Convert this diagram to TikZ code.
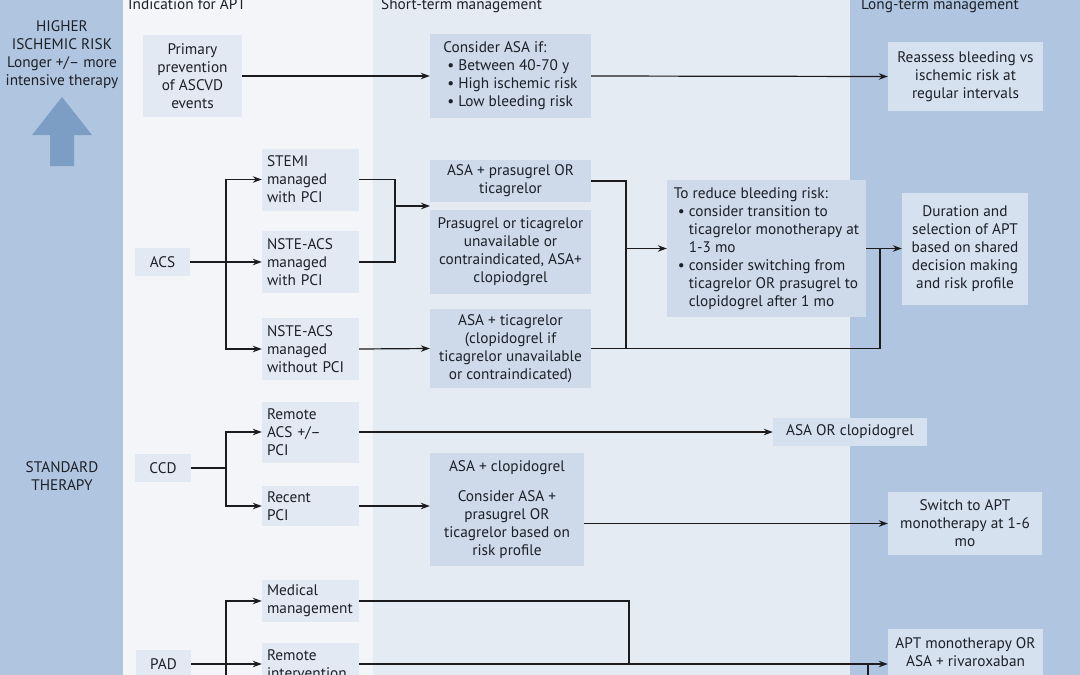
\documentclass[tikz,border=0pt]{standalone}
\usepackage{fontspec}
\setmainfont{PT Sans}
\usetikzlibrary{arrows.meta}
\hyphenpenalty=10000 \exhyphenpenalty=10000
\definecolor{band}{RGB}{176,197,223}
\definecolor{colA}{RGB}{243,245,249}
\definecolor{colB}{RGB}{229,235,243}
\definecolor{boxA}{RGB}{227,233,242}
\definecolor{boxB}{RGB}{206,218,233}
\definecolor{boxC}{RGB}{214,225,239}
\definecolor{arrc}{RGB}{124,158,197}
\definecolor{txt}{RGB}{28,32,40}
\definecolor{lc}{RGB}{28,28,30}
\newcommand\bul{\hspace*{4pt}\textbullet\hspace{4pt}}
\newcommand\ind{\hspace*{4pt}\phantom{\textbullet}\hspace{4pt}}
\tikzset{
  every node/.style={font=\fontsize{15.3}{18}\selectfont, text=txt},
  box/.style={inner sep=0pt, align=center},
  b1/.style={box, fill=boxA},
  b2/.style={box, fill=boxB},
  b3/.style={box, fill=boxC},
  sz/.style 2 args={minimum width=#1, minimum height=#2},
  lft/.style={align=left, text width=87pt, inner xsep=5pt},
  ln/.style={draw=lc, line width=1.2pt},
  arr/.style={ln, -{Stealth[length=9pt,width=6.5pt]}},
  hdr/.style={anchor=base west, inner sep=0pt},
}
\begin{document}
\begin{tikzpicture}[x=1pt,y=-1pt]
\useasboundingbox (0,0) rectangle (1080,675);
% backgrounds
\fill[band] (0,0) rectangle (123,675);
\fill[colA] (123,0) rectangle (373,675);
\fill[colB] (373,0) rectangle (850,675);
\fill[band] (850,0) rectangle (1080,675);
% big arrow
\fill[arrc] (62,97) -- (92,135) -- (74,135) -- (74,166) -- (50,166) -- (50,135) -- (32,135) -- cycle;
% left texts
\node[align=center, inner sep=0pt] (hir) at (62,54.5) {HIGHER\\ISCHEMIC RISK\\Longer +/– more\\intensive therapy};
\node[align=center, inner sep=0pt] (std) at (62,476) {STANDARD\\THERAPY};
% headers
\node[hdr] (h1) at (128,9) {Indication for APT};
\node[hdr] (h2) at (381,9) {Short-term management};
\node[hdr] (h3) at (861,9) {Long-term management};

% row 1
\node[b1, sz={99}{82}] (prim) at (192.5,76) {Primary\\prevention\\of ASCVD\\events};
\node[b2, sz={161}{84}, align=left] (cons) at (510.5,76) {Consider ASA if:\\\bul Between 40-70 y\\\bul High ischemic risk\\\bul Low bleeding risk};
\node[b3, sz={155}{69}] (reas) at (965.5,76.5) {Reassess bleeding vs\\ischemic risk at\\regular intervals};
\draw[arr] (prim.east) -- (cons.west);
\draw[arr] (cons.east) -- (reas.west);

% ACS
\node[b1, sz={55}{28}] (acs) at (162.5,262) {ACS};
\node[b1, sz={97}{62}, lft] (stemi) at (310.5,179.5) {STEMI\\managed\\with PCI};
\node[b1, sz={97}{62}, lft] (nste) at (310.5,262) {NSTE-ACS\\managed\\with PCI};
\node[b1, sz={97}{62}, lft] (nstewo) at (310.5,349) {NSTE-ACS\\managed\\without PCI};
\coordinate (jacs) at (226,262);
\draw[arr] (acs.east) -- (nste.west);
\draw[arr] (jacs) |- (stemi.west);
\draw[arr] (jacs) |- (nstewo.west);

\node[b2, sz={161}{42}] (asap) at (510.5,181) {ASA + prasugrel OR\\ticagrelor};
\node[b2, sz={161}{84}] (pras) at (510.5,252) {Prasugrel or ticagrelor\\unavailable or\\contraindicated, ASA+\\clopiodgrel};
\node[b2, sz={161}{79}] (asat) at (510.5,348.5) {ASA + ticagrelor\\(clopidogrel if\\ticagrelor unavailable\\or contraindicated)};
\coordinate (jst) at (395,206);
\coordinate (stin) at (430,206);
\draw[ln] (stemi.east) -| (jst);
\draw[ln] (nste.east) -| (jst);
\draw[arr] (jst) -- (stin);
\draw[arr] (nstewo.east) -- (asat.west);

\node[b2, sz={199}{137}, align=left] (red) at (766.5,248.5) {To reduce bleeding risk:\\\bul consider transition to\\\ind ticagrelor monotherapy at\\\ind 1-3 mo\\\bul consider switching from\\\ind ticagrelor OR prasugrel to\\\ind clopidogrel after 1 mo};
\node[b3, sz={126}{112}] (dur) at (965,248.5) {Duration and\\selection of APT\\based on shared\\decision making\\and risk profile};
\coordinate (j2) at (626,248.5);
\coordinate (j3) at (880,248.5);
\draw[ln] (asap.east) -| (asat.east -| j2);
\draw[ln] (asat.east) -| (j3);
\draw[arr] (j2) -- (red.west);
\draw[arr] (red.east) -- (dur.west);

% CCD
\node[b1, sz={56}{28}] (ccd) at (163,468) {CCD};
\node[b1, sz={97}{61}, lft] (racs) at (310.5,432) {Remote\\ACS +/–\\PCI};
\node[b1, sz={97}{40}, lft] (rpci) at (310.5,506) {Recent\\PCI};
\coordinate (jccd) at (226,468);
\draw[ln] (ccd.east) -- (jccd);
\draw[arr] (jccd) |- (racs.west);
\draw[arr] (jccd) |- (rpci.west);
\node[b3, sz={154}{28}] (aoc) at (850,432) {ASA OR clopidogrel};
\draw[arr] (racs.east) -- (aoc.west);
\node[b2, sz={154}{113}] (asac) at (507,509.5) {ASA + clopidogrel\\[12pt]Consider ASA +\\prasugrel OR\\ticagrelor based on\\risk profile};
\draw[arr] (rpci.east) -- (rpci.east -| asac.west);
\node[b3, sz={154}{63}] (sw) at (965,523.5) {Switch to APT\\monotherapy at 1-6\\mo};
\draw[arr] (asac.east |- sw.west) -- (sw.west);

% PAD
\node[b1, sz={55}{28}] (pad) at (163.5,664) {PAD};
\node[b1, sz={97}{42}, lft] (med) at (310.5,601) {Medical\\management};
\node[b1, sz={97}{42}, lft] (rint) at (310.5,664) {Remote\\intervention};
\coordinate (jpad) at (226,664);
\coordinate (jpadend) at (226,700);
\draw[arr] (pad.east) -- (rint.west);
\draw[arr] (jpadend) |- (med.west);
\node[b3, sz={155}{70}] (apt) at (965.5,664) {APT monotherapy OR\\ASA + rivaroxaban\\\strut};
\coordinate (jmed) at (629,664);
\coordinate (jbot) at (868,700);
\draw[ln] (med.east) -| (jmed);
\draw[arr] (rint.east) -- (apt.west);
\draw[ln] (rint.east -| jbot) -- (jbot);
\end{tikzpicture}
\end{document}
